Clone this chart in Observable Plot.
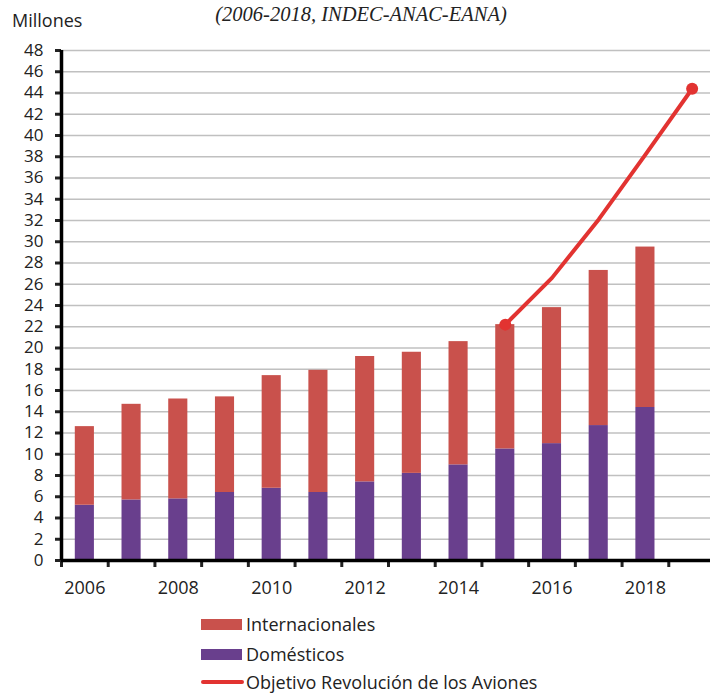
<!DOCTYPE html>
<html>
<head>
<meta charset="utf-8">
<script src="https://cdn.jsdelivr.net/npm/d3@7"></script>
<script src="https://cdn.jsdelivr.net/npm/@observablehq/plot@0.6"></script>
<style>
  html, body { margin: 0; padding: 0; background: #fff; }
  #wrap { width: 710px; position: relative; font-family: "Open Sans", sans-serif; }
  #head { position: relative; height: 40px; }
  #sub { position: absolute; left: 0; width: 722px; top: 4px; text-align: center; line-height: 1;
         font-family: "Liberation Serif", serif; font-style: italic; font-size: 20.5px; color: #222; }
  #unit { position: absolute; left: 12px; top: 8px; font-size: 18px; color: #222; }
  #legend { position: relative; height: 93px; }
  .row { position: absolute; left: 201px; height: 24px; display: flex; align-items: center; font-size: 18px; color: #222; }
  .sw { width: 41px; height: 11px; margin-right: 4px; }
  .ln { width: 43px; height: 4px; margin-right: 2px; border-radius: 2px; }
</style>
</head>
<body>
<div id="wrap">
  <div id="head">
    <div id="sub">(2006-2018, INDEC-ANAC-EANA)</div>
    <div id="unit">Millones</div>
  </div>
  <div id="chart"></div>
  <div id="legend"></div>
</div>
<script>
// ---- data (millones de pasajeros) ----
const allYears = [2006, 2007, 2008, 2009, 2010, 2011, 2012, 2013, 2014, 2015, 2016, 2017, 2018, 2019];
const barYears = [2006, 2007, 2008, 2009, 2010, 2011, 2012, 2013, 2014, 2015, 2016, 2017, 2018];
const domesticos =      [5.2, 5.7, 5.8, 6.4, 6.8, 6.4, 7.4, 8.2, 9.0, 10.5, 11.0, 12.7, 14.4];
const internacionales = [7.4, 9.0, 9.4, 9.0, 10.6, 11.5, 11.8, 11.4, 11.6, 11.7, 12.8, 14.6, 15.1];
const objetivoYears = [2015, 2016, 2017, 2018, 2019];
const objetivo =      [22.2, 26.6, 32.1, 38.2, 44.4];
const xTickLabels = [2006, 2008, 2010, 2012, 2014, 2016, 2018];
const yTicks = [0, 2, 4, 6, 8, 10, 12, 14, 16, 18, 20, 22, 24, 26, 28, 30, 32, 34, 36, 38, 40, 42, 44, 46, 48];
const series = ["Internacionales", "Domésticos", "Objetivo Revolución de los Aviones"];
const colors = ["#c9514c", "#693f8d", "#e23331"];

// ---- tables ----
const bars = [];
barYears.forEach((y, i) => {
  bars.push({year: y, tipo: series[1], value: domesticos[i]});
  bars.push({year: y, tipo: series[0], value: internacionales[i]});
});
const target = objetivoYears.map((y, i) => ({year: y, value: objetivo[i]}));

const W = 710, x0 = 61, x1 = 715;
const bw = (x1 - x0) / allYears.length;

const chart = Plot.plot({
  width: W,
  height: 560,
  marginLeft: x0,
  marginRight: 0,
  marginTop: 10,
  marginBottom: 40,
  style: {fontFamily: "Open Sans, sans-serif", fontSize: "17px", color: "#222", overflow: "visible"},
  x: {type: "band", domain: allYears, range: [x0, x1], round: false, paddingInner: 0, paddingOuter: 0, label: null},
  y: {domain: [0, 48], label: null},
  color: {domain: series.slice(0, 2), range: colors.slice(0, 2)},
  marks: [
    Plot.gridY(yTicks.filter(d => d > 0), {stroke: "#c0c0c0", strokeOpacity: 1, strokeWidth: 1.4}),
    Plot.barY(bars, Plot.stackY({x: "year", y: "value", z: "tipo", fill: "tipo",
      order: [series[1], series[0]], insetLeft: 13.8, insetRight: 13.8})),
    Plot.line(target, {x: "year", y: "value", stroke: colors[2], strokeWidth: 4}),
    Plot.dot([target[0], target[target.length - 1]], {x: "year", y: "value", r: 6, fill: colors[2]}),
    Plot.axisY(yTicks, {tickSize: 6, strokeWidth: 3, tickPadding: 12, fontSize: 17, label: null}),
    Plot.axisX(allYears, {tickSize: 7, strokeWidth: 3, tickFormat: () => "", dx: -bw / 2, label: null}),
    Plot.axisX(xTickLabels, {tickSize: 0, tickPadding: 21, fontSize: 18, tickFormat: d => String(d), label: null}),
    Plot.ruleY([0], {stroke: "#000", strokeWidth: 3.5}),
    Plot.ruleX([allYears[0]], {y1: 0, y2: 48, dx: -bw / 2, stroke: "#000", strokeWidth: 3.5})
  ]
});
document.getElementById("chart").appendChild(chart);

// ---- legend ----
const leg = document.getElementById("legend");
const tops = [12, 42, 70];
series.forEach((s, i) => {
  const row = document.createElement("div");
  row.className = "row";
  row.style.top = tops[i] + "px";
  const sw = document.createElement("div");
  sw.className = i < 2 ? "sw" : "ln";
  sw.style.background = colors[i];
  const t = document.createElement("span");
  t.textContent = s;
  row.appendChild(sw);
  row.appendChild(t);
  leg.appendChild(row);
});
</script>
</body>
</html>
